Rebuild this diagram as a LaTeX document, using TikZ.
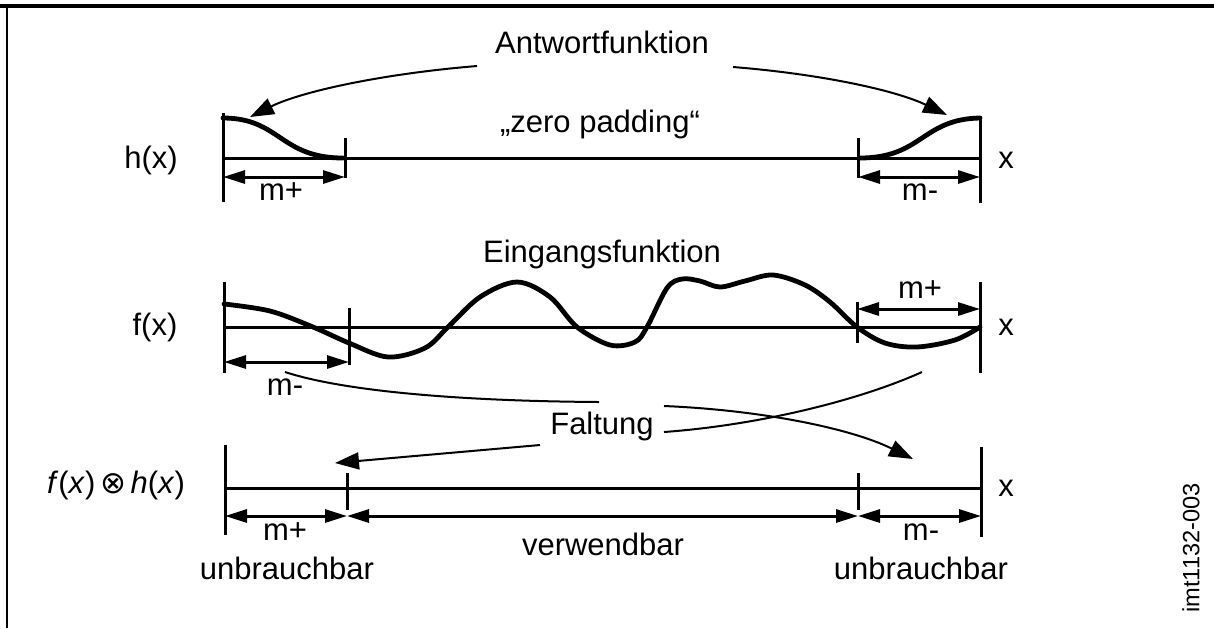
\documentclass[tikz,border=0pt]{standalone}
\usepackage{fontspec}
\setmainfont{Liberation Sans}
\newfontfamily\symfont{DejaVu Sans}
\usetikzlibrary{arrows.meta}
\begin{document}
\begin{tikzpicture}[x=0.5pt,y=-0.5pt,
  lbl/.style={inner sep=0pt, font=\fontsize{15.5}{18}\selectfont},
  axisline/.style={line width=1.5pt},
  curve/.style={line width=2.4pt, line join=round, line cap=round},
  dim/.style={line width=1.5pt, {Triangle[length=11pt,width=6.5pt]}-{Triangle[length=11pt,width=6.5pt]}},
  conn/.style={line width=1pt, -{Triangle[length=12pt,width=8.5pt]}},
  connline/.style={line width=1pt},
]
\useasboundingbox (0,0) rectangle (1214,628);
% frame
\draw[line width=1.6pt] (0,6) -- (1214,6);
\draw[line width=1pt] (7,6) -- (7,628);

% ---------- row 1: h(x)
\draw[axisline] (223,158) -- (980,158);
\draw[axisline] (223,113) -- (223,202);
\draw[axisline] (980,118) -- (980,203);
\draw[axisline] (345,138) -- (345,178);
\draw[axisline] (858,138) -- (858,178);
\coordinate (d1a) at (223,177); \coordinate (d1b) at (345,177);
\coordinate (d1c) at (858,177); \coordinate (d1d) at (980,177);
\draw[dim] (d1a) -- (d1b);
\draw[dim] (d1c) -- (d1d);
\draw[curve] (223,118) .. controls (280,118) and (280,158) .. (343,158);
\draw[curve] (860,158) .. controls (922,158) and (922,119) .. (980,118);

\node[lbl, anchor=base] (antwort) at (602,53) {Antwortfunktion};
\node[lbl, anchor=base] (zp) at (600,132) {„zero padding“};
\node[lbl] (hx) at (151,160) {h(x)};
\node[lbl, anchor=base] (x1) at (1006,168) {x};
\node[lbl, anchor=base] (m1p) at (281,200) {m+};
\node[lbl, anchor=base] (m1m) at (920,200) {m-};

\coordinate (a1s) at (477,66); \coordinate (a1e) at (250,117);
\draw[conn] (a1s) .. controls (380,74) and (300,92) .. (a1e);
\coordinate (a2s) at (733,67); \coordinate (a2e) at (947,115);
\draw[conn] (a2s) .. controls (820,74) and (895,90) .. (a2e);

% ---------- row 2: f(x)
\draw[axisline] (224,327) -- (980,327);
\draw[axisline] (224,282) -- (224,373);
\draw[axisline] (980,282) -- (980,373);
\draw[axisline] (349,308) -- (349,365);
\draw[axisline] (857,302) -- (857,343);
\coordinate (d2a) at (224,362); \coordinate (d2b) at (349,362);
\coordinate (d2c) at (857,309); \coordinate (d2d) at (980,309);
\draw[dim] (d2a) -- (d2b);
\draw[dim] (d2c) -- (d2d);
\draw[curve] plot[smooth,tension=0.55] coordinates {(224,304) (270,311) (313,327) (349,343) (388,357) (425,348) (448,327) (480,297) (517,282) (550,297) (577,327) (610,345) (635,342) (647,327) (667,288) (682,279) (700,281) (720,287) (745,281) (773,275) (805,285) (830,302) (857,327) (885,343) (917,347) (955,340) (980,327)};

\node[lbl, anchor=base] (ein) at (602,262) {Eingangsfunktion};
\node[lbl] (fx) at (155,327) {f(x)};
\node[lbl, anchor=base] (x2) at (1006,335) {x};
\node[lbl, anchor=base] (m2p) at (920,298) {m+};
\node[lbl, anchor=base] (m2m) at (285,395) {m-};

% ---------- Faltung
\node[lbl, anchor=base] (falt) at (602,434) {Faltung};
\coordinate (fa1) at (285,372); \coordinate (fa2) at (599,402);
\draw[connline] (fa1) .. controls (340,390) and (450,401) .. (fa2);
\coordinate (fa3) at (664,406); \coordinate (fa4) at (913,459);
\draw[conn] (fa3) .. controls (760,410) and (850,428) .. (fa4);
\coordinate (fb1) at (922,372); \coordinate (fb2) at (664,432);
\draw[connline] (fb1) .. controls (860,400) and (760,425) .. (fb2);
\coordinate (fb3) at (540,445); \coordinate (fb4) at (335,463);
\draw[conn] (fb3) -- (fb4);

% ---------- row 3: f(x) (x) h(x)
\draw[axisline] (225,488) -- (981,488);
\draw[axisline] (225,445) -- (225,535);
\draw[axisline] (981,447) -- (981,537);
\draw[axisline] (347,473) -- (347,510);
\draw[axisline] (858,473) -- (858,510);
\coordinate (d3a) at (225,516); \coordinate (d3b) at (347,516);
\coordinate (d3c) at (858,516); \coordinate (d3d) at (981,516);
\draw[dim] (d3a) -- (d3b);
\draw[dim] (d3b) -- (d3c);
\draw[dim] (d3c) -- (d3d);

\node[lbl] (fh) at (116,485) {\textit{f}(\textit{x})\kern0.15em{\symfont ⊗}\kern0.15em\textit{h}(\textit{x})};
\node[lbl, anchor=base] (x3) at (1006,496) {x};
\node[lbl, anchor=base] (m3p) at (285,540) {m+};
\node[lbl, anchor=base] (m3m) at (921,540) {m-};
\node[lbl, anchor=base] (u1) at (287,579) {unbrauchbar};
\node[lbl, anchor=base] (u2) at (921,579) {unbrauchbar};
\node[lbl, anchor=base] (verw) at (603,555) {verwendbar};

\node[inner sep=0pt, rotate=90, font=\fontsize{11.8}{14}\selectfont] (imt) at (1191,548) {imt1132-003};
\end{tikzpicture}
\end{document}
